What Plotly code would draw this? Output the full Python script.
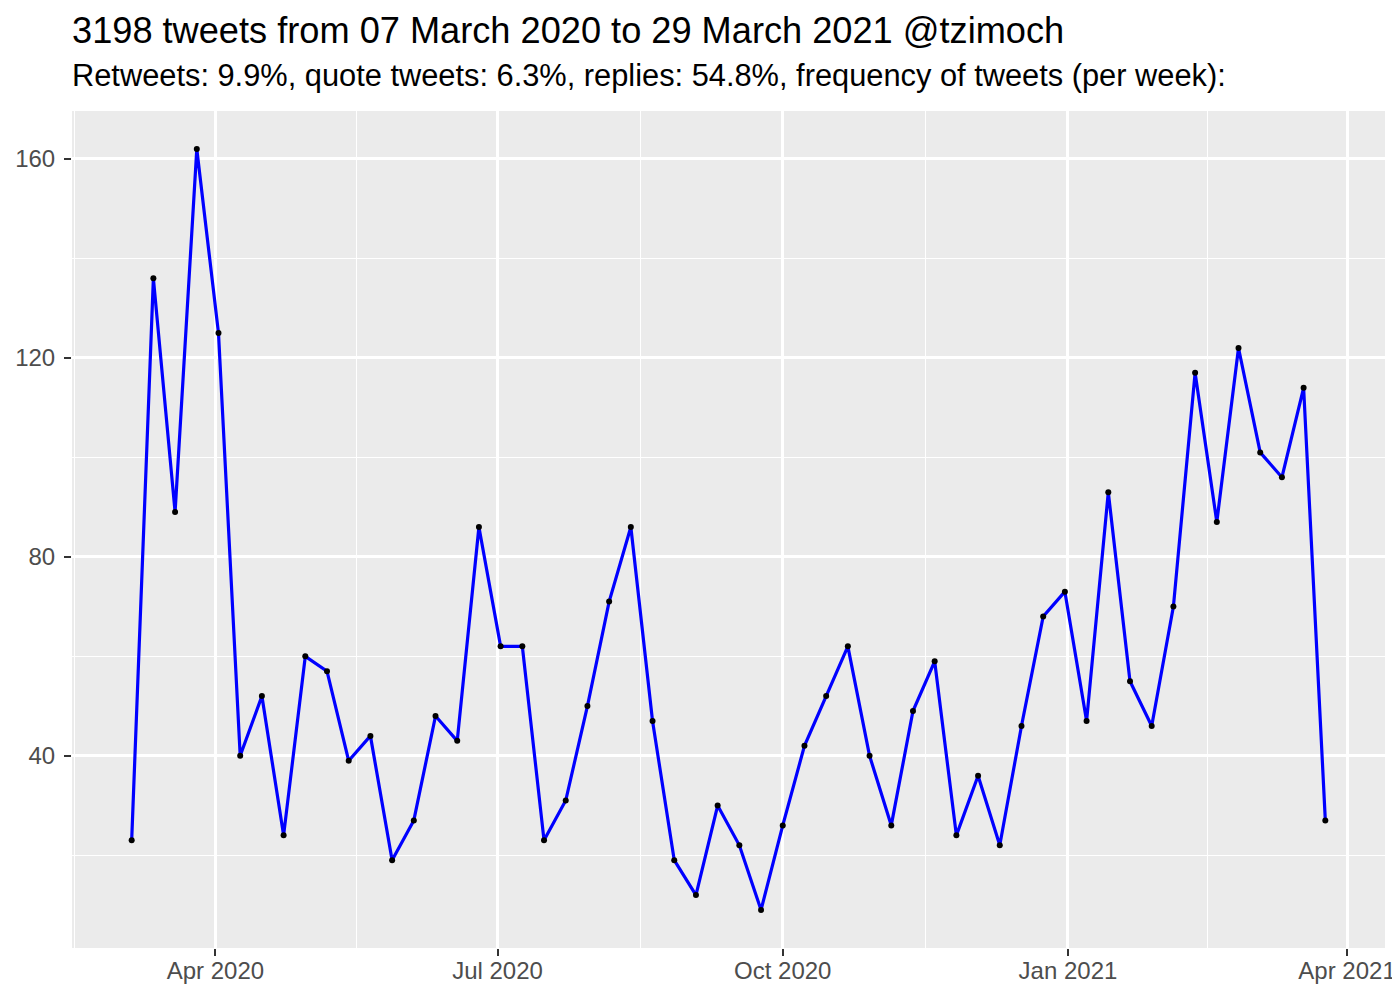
import pandas as pd
import plotly.graph_objects as go

# weekly tweet counts (weeks starting 2020-03-05)
week_start = "2020-03-05"
n_weeks = 56
weeks = pd.date_range(week_start, periods=n_weeks, freq="7D")
counts = [23, 136, 89, 162, 125, 40, 52, 24, 60, 57, 39, 44, 19, 27, 48, 43,
          86, 62, 62, 23, 31, 50, 71, 86, 47, 19, 12, 30, 22, 9, 26, 42,
          52, 62, 40, 26, 49, 59, 24, 36, 22, 46, 68, 73, 47, 93, 55, 46,
          70, 117, 87, 122, 101, 96, 114, 27]

title_text = "3198 tweets from 07 March 2020 to 29 March 2021 @tzimoch"
subtitle_text = ("Retweets: 9.9%, quote tweets: 6.3%, replies: 54.8%, "
                 "frequency of tweets (per week):")

x_tickvals = ["2020-04-01", "2020-07-01", "2020-10-01", "2021-01-01", "2021-04-01"]
x_ticktext = ["Apr 2020", "Jul 2020", "Oct 2020", "Jan 2021", "Apr 2021"]
x_minor = ["2020-02-15 12:00", "2020-05-16 12:00", "2020-08-16", "2020-11-16", "2021-02-15"]
y_tickvals = [40, 80, 120, 160]
y_minor = [20, 60, 100, 140]

FONT = "Liberation Sans"
PLOT_H = 837

fig = go.Figure()
fig.add_trace(go.Scatter(
    x=weeks, y=counts, mode="lines+markers",
    line=dict(color="#0000FF", width=3.2),
    marker=dict(color="black", size=6),
    showlegend=False, hoverinfo="x+y",
))

fig.update_layout(
    width=1392, height=992,
    margin=dict(l=64, r=15, t=103, b=52),
    paper_bgcolor="white", plot_bgcolor="#EBEBEB",
    font=dict(family=FONT, color="#4D4D4D", size=24),
    xaxis=dict(
        type="date", automargin=False,
        range=["2020-02-14 18:00", "2021-04-13 06:00"],
        tickmode="array", tickvals=x_tickvals, ticktext=x_ticktext,
        ticks="outside", ticklen=7, tickwidth=2, tickcolor="#333333",
        ticklabelstandoff=-6,
        showgrid=True, gridcolor="white", gridwidth=2.7,
        minor=dict(tickmode="array", tickvals=x_minor, showgrid=True,
                   gridcolor="white", gridwidth=1.4, ticks=""),
        zeroline=False, showline=False,
        tickfont=dict(family=FONT, size=24, color="#4D4D4D"),
    ),
    yaxis=dict(
        automargin=False,
        range=[1.35, 169.65],
        tickmode="array", tickvals=y_tickvals,
        ticks="outside", ticklen=7, tickwidth=2, tickcolor="#333333",
        ticklabelstandoff=4,
        showgrid=True, gridcolor="white", gridwidth=2.7,
        minor=dict(tickmode="array", tickvals=y_minor, showgrid=True,
                   gridcolor="white", gridwidth=1.4, ticks=""),
        zeroline=False, showline=False,
        tickfont=dict(family=FONT, size=24, color="#4D4D4D"),
    ),
    annotations=[
        dict(text=title_text, xref="paper", yref="paper", x=0, xshift=-2,
             y=1 + (103 - 22) / PLOT_H,
             xanchor="left", yanchor="middle", showarrow=False,
             font=dict(family=FONT, size=36.2, color="black")),
        dict(text=subtitle_text, xref="paper", yref="paper", x=0, xshift=-2,
             y=1 + (103 - 67) / PLOT_H,
             xanchor="left", yanchor="middle", showarrow=False,
             font=dict(family=FONT, size=30.8, color="black")),
    ],
)

fig.write_html("out.html")
